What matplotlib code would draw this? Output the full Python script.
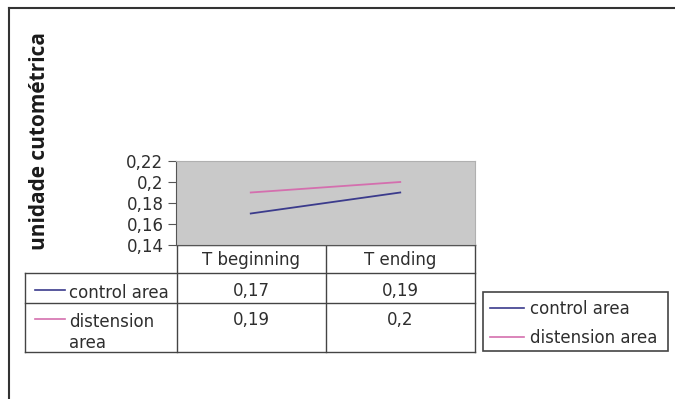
import matplotlib
matplotlib.use("Agg")
import matplotlib.pyplot as plt
from matplotlib.ticker import FuncFormatter

# valores medidos (unidade cutométrica)
categories = ["T beginning", "T ending"]
control_area = [0.17, 0.19]
distension_area = [0.19, 0.2]
series_names = ["control area", "distension area"]
row_labels = ["control area", "distension\narea"]
y_ticks = [0.14, 0.16, 0.18, 0.20, 0.22]

C_CONTROL = "#3b3b8c"
C_DIST = "#d46fae"
TXT = "#2e2e2e"
FS = 12
W, H = 675, 399


def br(v):
    return f"{v:g}".replace(".", ",")


plt.rcParams["font.family"] = ["DejaVu Sans"]
fig = plt.figure(figsize=(W / 100, H / 100), dpi=100)
fig.patch.set_facecolor("white")

# camada em pixels para moldura, tabela e legenda
ov = fig.add_axes([0, 0, 1, 1])
ov.set_xlim(0, W)
ov.set_ylim(H, 0)
ov.axis("off")

# gráfico
x0, x1, y0, y1 = 176, 475, 161, 245
ax = fig.add_axes([x0 / W, 1 - y1 / H, (x1 - x0) / W, (y1 - y0) / H])
ax.set_facecolor("#c9c9c9")
xs = [i + 0.5 for i in range(len(categories))]
ax.plot(xs, control_area, color=C_CONTROL, lw=1.3)
ax.plot(xs, distension_area, color=C_DIST, lw=1.3)
ax.set_xlim(0, len(categories))
ax.set_ylim(y_ticks[0], y_ticks[-1])
ax.set_yticks(y_ticks)
ax.yaxis.set_major_formatter(FuncFormatter(lambda v, p: br(round(v, 2))))
ax.set_xticks([])
ax.tick_params(axis="y", length=6, width=0.8, color="#555555", labelsize=FS,
               labelcolor=TXT, pad=3)
for s in ["top", "right"]:
    ax.spines[s].set_color("#b0b0b0")
ax.spines["left"].set_color("#555555")
ax.spines["bottom"].set_color("#555555")

ov.text(40, 141, "unidade cutométrica", rotation=90, ha="center", va="center",
        fontsize=15, fontweight="bold", color="#1a1a1a", family=["Open Sans", "DejaVu Sans"])

# moldura externa
ov.plot([9, W], [8, 8], color="#333333", lw=1.5)
ov.plot([9, 9], [8, H], color="#333333", lw=1.5)

# tabela de dados
gc = "#444444"
cols = [177, 326, 475]
rows = [245, 273, 303, 352]
for c in cols:
    ov.plot([c, c], [rows[0], rows[-1]], color=gc, lw=1)
ov.plot([25, 25], [rows[1], rows[-1]], color=gc, lw=1)
ov.plot([cols[0], cols[-1]], [rows[0], rows[0]], color=gc, lw=1)
for r in rows[1:]:
    ov.plot([25, cols[-1]], [r, r], color=gc, lw=1)

for i, cat in enumerate(categories):
    cx = (cols[i] + cols[i + 1]) / 2
    ov.text(cx, 260, cat, ha="center", va="center", fontsize=FS, color=TXT)
    ov.text(cx, 291, br(control_area[i]), ha="center", va="center", fontsize=FS, color=TXT)
    ov.text(cx, 320, br(distension_area[i]), ha="center", va="center", fontsize=FS, color=TXT)

for lab, col, yy in zip(row_labels, [C_CONTROL, C_DIST], [290, 319]):
    ov.plot([35, 65], [yy, yy], color=col, lw=1.2)
    ov.text(69, yy - 6, lab, ha="left", va="top", fontsize=FS, color=TXT,
            linespacing=1.2)

# legenda
ov.add_patch(plt.Rectangle((483, 292), 185, 59, fill=False, ec="#444444", lw=1.2))
for name, col, yy in zip(series_names, [C_CONTROL, C_DIST], [308, 337]):
    ov.plot([490, 524], [yy, yy], color=col, lw=1.2)
    ov.text(530, yy + 1, name, ha="left", va="center", fontsize=FS, color=TXT)

fig.savefig("out.png", dpi=100)
